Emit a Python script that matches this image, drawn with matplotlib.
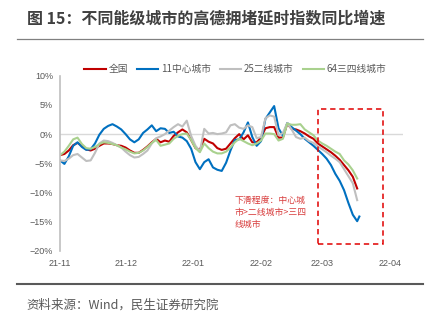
import matplotlib
matplotlib.use("Agg")
import matplotlib.pyplot as plt
import matplotlib.dates as mdates
from matplotlib.patches import Rectangle
from matplotlib.ticker import FuncFormatter
import numpy as np
import pandas as pd

plt.rcParams["font.family"] = ["Noto Sans CJK SC", "DejaVu Sans"]

# ==============================
# Data: congestion delay index YoY (%), sampled every 2 days
# ==============================

dates = pd.date_range("2021-11-01", periods=70, freq="2D")
dates = dates[:69].append(pd.DatetimeIndex(["2022-03-18"]))

national = [-3.6, -3.4, -2.8, -1.9, -1.5, -2.0, -2.6, -2.8, -2.5, -2.0,
            -1.6, -1.6, -1.7, -1.9, -2.0, -2.3, -2.8, -3.2, -3.2, -2.7,
            -2.1, -1.4, -0.8, -1.4, -1.1, -1.3, -0.3, 0.3, 0.8, 0.3,
            -1.0, -2.4, -2.7, -0.8, -1.3, -1.6, -2.4, -2.7, -2.5, -1.6,
            -0.7, 0.0, -0.9, -0.2, -1.4, -1.4, -0.6, 1.0, 1.2, 1.2,
            -0.6, -0.6, 1.8, 0.9, 0.8, 0.5, 0.1, -0.4, -0.8, -1.6,
            -2.1, -2.6, -3.1, -3.7, -4.4, -5.3, -6.2, -7.3, -9.3, np.nan]

tier1 = [-4.5, -5.1, -3.8, -2.0, -1.4, -2.2, -2.7, -2.6, -1.6, -0.1,
         0.9, 1.4, 1.7, 1.3, 0.8, 0.0, -0.9, -1.4, -0.9, 0.2,
         0.8, 1.5, 0.5, 1.0, 0.9, 0.2, 0.4, -0.4, -0.6, -1.2,
         -2.5, -4.8, -6.0, -4.8, -4.3, -5.7, -6.1, -6.3, -4.9, -2.8,
         -1.0, -0.9, 0.3, 2.0, -0.5, -2.0, -1.2, 2.6, 3.7, 4.8,
         1.0, -0.3, 1.9, 1.2, 0.6, 0.0, -0.8, -1.4, -2.0, -2.7,
         -3.4, -4.2, -5.3, -6.8, -8.0, -9.6, -11.8, -13.8, -14.9, -14.1]

tier2 = [-4.5, -4.6, -4.2, -3.6, -3.4, -4.0, -4.6, -4.5, -3.2, -1.6,
         -1.1, -1.2, -1.5, -1.9, -2.3, -3.0, -3.6, -4.0, -3.9, -3.4,
         -2.8, -1.6, -0.7, -0.4, 0.0, 0.6, 1.2, 1.7, 1.3, 2.3,
         -0.3, -2.0, -3.0, 0.9, 0.1, 0.2, 0.0, 0.1, 0.3, 1.5,
         1.7, 1.1, 0.9, 1.5, 1.2, -0.7, -0.5, 2.7, 3.2, 3.0,
         -0.2, 0.2, 1.9, 0.8, -0.5, -0.8, -0.6, -1.2, -1.5, -2.1,
         -2.6, -3.1, -3.7, -4.2, -4.8, -6.0, -7.2, -8.4, -11.3, np.nan]

tier34 = [-3.6, -3.0, -2.0, -0.9, -0.6, -1.7, -2.4, -2.5, -2.2, -1.7,
          -1.4, -1.5, -1.7, -1.9, -2.3, -2.6, -3.0, -3.3, -3.2, -2.8,
          -2.2, -1.5, -1.0, -2.0, -1.8, -1.6, -0.8, -0.3, 0.0, 0.1,
          -1.0, -2.4, -3.1, -1.6, -2.4, -3.0, -3.3, -3.3, -3.0, -2.3,
          -1.4, -0.8, -1.2, -1.6, -1.9, -1.6, -1.1, 0.1, 0.1, 0.0,
          -1.1, -0.8, 1.8, 1.6, 1.6, 1.7, 0.8, 0.3, -0.2, -1.1,
          -1.6, -2.0, -2.5, -3.0, -3.4, -4.5, -5.2, -6.2, -7.6, np.nan]

labels = ["全国", "11中心城市", "25二线城市", "64三四线城市"]
colors = ["#C00000", "#0070C0", "#BFBFBF", "#A9D18E"]

title = "图 15：不同能级城市的高德拥堵延时指数同比增速"
source = "资料来源：Wind，民生证券研究院"
note = "下滑程度：中心城\n市>二线城市>三四\n线城市"

# ==============================
# Figure
# ==============================

fig = plt.figure(figsize=(4.32, 3.22), dpi=100)
ax = fig.add_axes([0.139, 0.2205, 0.794, 0.5445])

for series, label, color in zip([national, tier1, tier2, tier34], labels, colors):
    ax.plot(dates, series, color=color, lw=1.5, label=label)

ax.axhline(0, color="#D9D9D9", lw=1.0, zorder=0)

ax.set_ylim(-20, 10)
ax.set_yticks(np.arange(-20, 11, 5))
ax.yaxis.set_major_formatter(FuncFormatter(lambda v, p: f"{v:.0f}%".replace("-", "\u2212")))

ax.set_xlim(pd.Timestamp("2021-11-01"), pd.Timestamp("2022-04-07"))
ax.xaxis.set_major_locator(mdates.MonthLocator())
ax.xaxis.set_major_formatter(mdates.DateFormatter("%y-%m"))

for side in ["top", "right", "bottom"]:
    ax.spines[side].set_visible(False)
ax.spines["left"].set_color("#BFBFBF")
ax.spines["left"].set_linewidth(1.2)

ax.tick_params(axis="both", length=0, labelsize=6.5, colors="#595959")
ax.tick_params(axis="x", pad=6)
ax.tick_params(axis="y", pad=5)
for lbl in ax.get_xticklabels() + ax.get_yticklabels():
    lbl.set_family(["Liberation Sans", "DejaVu Sans"])

# highlighted decline window
box = Rectangle((mdates.date2num(pd.Timestamp("2022-02-27")), -18.8),
                mdates.date2num(pd.Timestamp("2022-03-29")) - mdates.date2num(pd.Timestamp("2022-02-27")),
                23.1, fill=False, ec="#E00000", lw=1.1, ls=(0, (3.5, 2.5)), zorder=5)
ax.add_patch(box)

ax.text(mdates.date2num(pd.Timestamp("2022-01-20")), -10.6, note, color="#D83C3C",
        fontsize=6.4, va="top", ha="left", linespacing=1.45)

fig.legend(loc="center", bbox_to_anchor=(0.545, 0.786), ncol=4, frameon=False,
           fontsize=7, handlelength=2.2, columnspacing=0.9, handletextpad=0.3,
           labelcolor="#595959")

# title and footer
fig.text(0.062, 0.944, title, fontsize=11.5, fontweight="bold", color="#404040",
         ha="left", va="center")
fig.add_artist(plt.Line2D([0.039, 0.979], [0.879, 0.879], color="#808080", lw=0.9))
fig.add_artist(plt.Line2D([0.039, 0.979], [0.119, 0.119], color="#595959", lw=1.5))
fig.text(0.06, 0.053, source, fontsize=9, color="#595959", ha="left", va="center")

fig.savefig("out.png", dpi=100)
